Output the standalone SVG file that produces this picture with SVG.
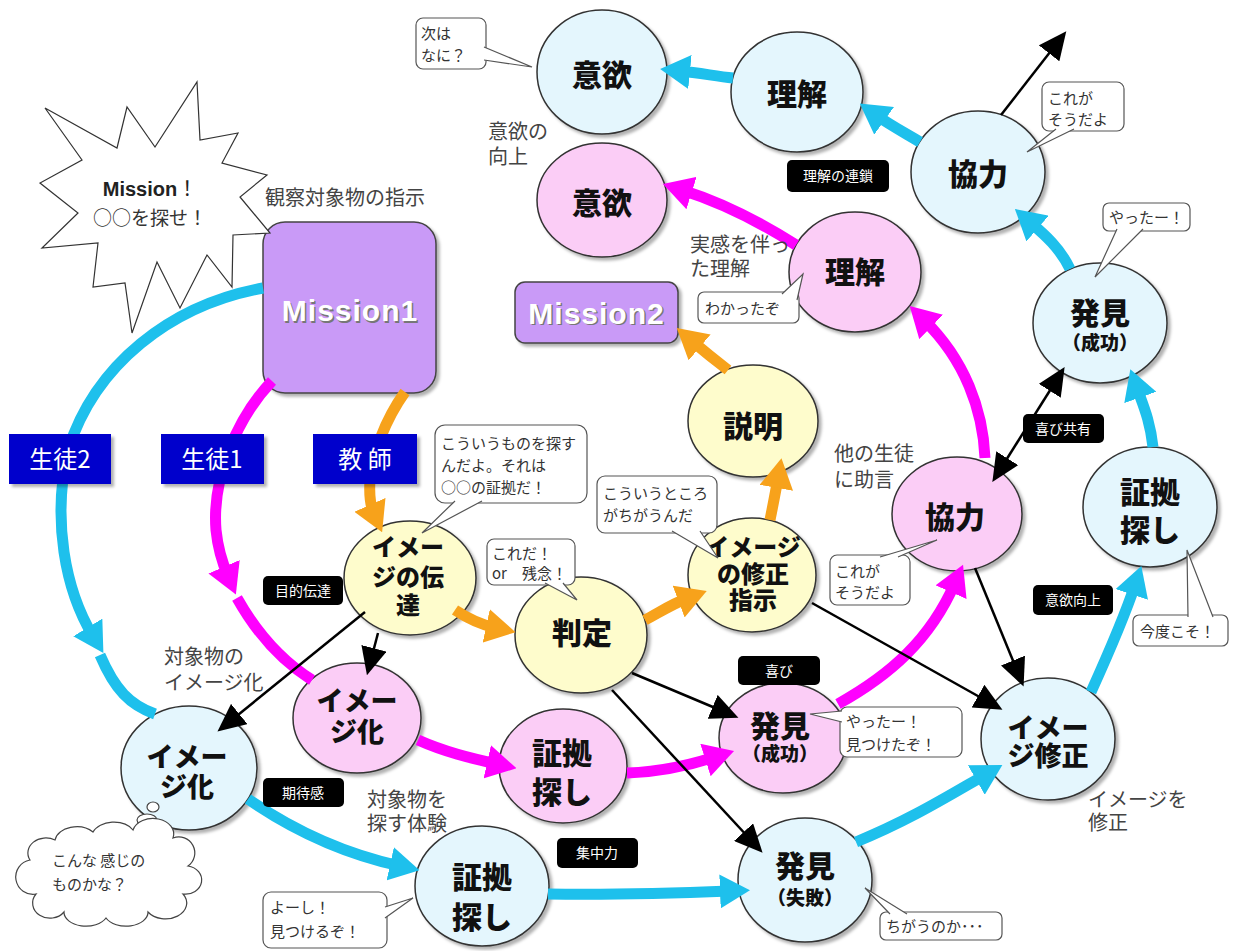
<svg xmlns="http://www.w3.org/2000/svg" width="1233" height="951" viewBox="0 0 1233 951">
<style>
.nb{fill:#e4f6fd;stroke:#333;stroke-width:1.5;filter:url(#sh)}
.np{fill:#fbcdf6;stroke:#333;stroke-width:1.5;filter:url(#sh)}
.ny{fill:#fefccc;stroke:#333;stroke-width:1.5;filter:url(#sh)}
.mr{fill:#c99af7;stroke:#444;stroke-width:1.5;filter:url(#sh)}
text{font-family:"Noto Sans CJK JP","Noto Sans",sans-serif}
.t{font-weight:900;fill:#111;text-anchor:middle;font-size:30px}
.t27{font-size:27px}
.t24{font-size:24px}
.s19{font-size:19px}
.mt{font-family:"Liberation Sans",Arial,sans-serif;font-weight:bold;font-size:30px;text-anchor:middle;letter-spacing:1px}
.cs{fill:#fff;stroke:#555;stroke-width:1.2}
.ct{font-size:15px;fill:#333}
.lab{font-size:20px;fill:#444}
.bk{fill:#000}
.bkt{fill:#fff;font-size:14px;text-anchor:middle}
.bl{fill:#0000cc;filter:url(#sh)}
.blt{fill:#fff;font-size:24px;text-anchor:middle}
.cy{fill:none;stroke:#1ec0ec;stroke-width:11}
.mg{fill:none;stroke:#ff00ff;stroke-width:11}
.or{fill:none;stroke:#f7a21b;stroke-width:11}
.bkl{fill:none;stroke:#000;stroke-width:2.5}
</style>
<defs>
<filter id="sh" x="-20%" y="-20%" width="140%" height="140%"><feDropShadow dx="3" dy="3" stdDeviation="1.5" flood-color="#000" flood-opacity="0.3"/></filter>
<marker id="mc" viewBox="0 0 30 34" refX="10" refY="17" markerWidth="30" markerHeight="34" markerUnits="userSpaceOnUse" orient="auto"><path d="M0,0 L30,17 L0,34 z" fill="#1ec0ec"/></marker>
<marker id="mm" viewBox="0 0 30 34" refX="10" refY="17" markerWidth="30" markerHeight="34" markerUnits="userSpaceOnUse" orient="auto"><path d="M0,0 L30,17 L0,34 z" fill="#ff00ff"/></marker>
<marker id="mo" viewBox="0 0 30 34" refX="10" refY="17" markerWidth="30" markerHeight="34" markerUnits="userSpaceOnUse" orient="auto"><path d="M0,0 L30,17 L0,34 z" fill="#f7a21b"/></marker>
<marker id="mb" viewBox="0 0 28 26" refX="8" refY="13" markerWidth="28" markerHeight="26" markerUnits="userSpaceOnUse" orient="auto-start-reverse"><path d="M0,0 L28,13 L0,26 z" fill="#000"/></marker>
</defs>
<rect width="1233" height="951" fill="#fff"/>

<g id="n-mission1"><rect class="mr" x="263" y="222" width="173" height="171" rx="22"/><text class="mt" x="351.5" y="322.5" fill="#777">Mission1</text><text class="mt" x="350" y="321" fill="#fff">Mission1</text></g>
<g id="n-mission2"><rect class="mr" x="515" y="282" width="163" height="61" rx="10"/><text class="mt" x="598" y="325" fill="#777">Mission2</text><text class="mt" x="596.5" y="323.5" fill="#fff">Mission2</text></g>

<g id="n-iyoku-b"><ellipse class="nb" cx="602" cy="72" rx="65" ry="62"/><text class="t" x="602" y="86">意欲</text></g>
<g id="n-rikai-b"><ellipse class="nb" cx="797" cy="92" rx="66" ry="60"/><text class="t" x="797" y="105">理解</text></g>
<g id="n-kyoryoku-b"><ellipse class="nb" cx="978" cy="172" rx="67" ry="61"/><text class="t" x="978" y="185">協力</text></g>
<g id="n-hakken-b1"><ellipse class="nb" cx="1100" cy="323" rx="67" ry="60"/><text class="t" x="1100" y="324">発見<tspan class="s19" x="1100" dy="26">（成功）</tspan></text></g>
<g id="n-shoko-b1"><ellipse class="nb" cx="1150" cy="507" rx="67" ry="60"/><text class="t" x="1150" y="503">証拠<tspan x="1150" dy="38">探し</tspan></text></g>
<g id="n-imageshusei"><ellipse class="nb" cx="1048" cy="739" rx="67" ry="61"/><text class="t t27" x="1048" y="738">イメー<tspan x="1048" dy="28">ジ修正</tspan></text></g>
<g id="n-hakken-fail"><ellipse class="nb" cx="805" cy="880" rx="67" ry="62"/><text class="t" x="805" y="877">発見<tspan class="s19" x="805" dy="28">（失敗）</tspan></text></g>
<g id="n-shoko-b2"><ellipse class="nb" cx="482" cy="886" rx="67" ry="60"/><text class="t" x="482" y="888">証拠<tspan x="482" dy="40">探し</tspan></text></g>
<g id="n-imageka-b"><ellipse class="nb" cx="189" cy="768" rx="68" ry="62"/><text class="t t27" x="187" y="767">イメー<tspan x="187" dy="30">ジ化</tspan></text></g>

<g id="n-iyoku-p"><ellipse class="np" cx="602" cy="200" rx="65" ry="57"/><text class="t" x="602" y="214">意欲</text></g>
<g id="n-rikai-p"><ellipse class="np" cx="855" cy="272" rx="66" ry="60"/><text class="t" x="855" y="283">理解</text></g>
<g id="n-kyoryoku-p"><ellipse class="np" cx="957" cy="514" rx="65" ry="57"/><text class="t" x="955" y="528">協力</text></g>
<g id="n-hakken-p"><ellipse class="np" cx="783" cy="738" rx="64" ry="55"/><text class="t" x="780" y="737">発見<tspan class="s19" x="780" dy="24">（成功）</tspan></text></g>
<g id="n-shoko-p"><ellipse class="np" cx="563" cy="766" rx="64" ry="57"/><text class="t" x="562" y="764">証拠<tspan x="562" dy="39">探し</tspan></text></g>
<g id="n-imageka-p"><ellipse class="np" cx="357" cy="718" rx="64" ry="55"/><text class="t t27" x="357" y="711">イメー<tspan x="357" dy="31">ジ化</tspan></text></g>

<g id="n-setsumei"><ellipse class="ny" cx="753" cy="421" rx="65" ry="56"/><text class="t" x="753" y="437">説明</text></g>
<g id="n-shuseishiji"><ellipse class="ny" cx="752" cy="575" rx="64" ry="57"/><text class="t t24" x="753" y="556">イメージ<tspan x="753" dy="27">の修正</tspan><tspan x="753" dy="26">指示</tspan></text></g>
<g id="n-hantei"><ellipse class="ny" cx="581" cy="635" rx="66" ry="58"/><text class="t" x="582" y="644">判定</text></g>
<g id="n-dentatsu"><ellipse class="ny" cx="410" cy="578" rx="66" ry="57"/><text class="t t24" x="408" y="556">イメー<tspan x="408" dy="30">ジの伝</tspan><tspan x="408" dy="28">達</tspan></text></g>

<g id="connectors">
<path class="cy" d="M100,655 C115,690 130,705 155,714"/>
<path class="cy" marker-end="url(#mc)" d="M263,288 C170,305 95,365 68,450 C52,520 65,590 93,636"/>
<path class="cy" marker-end="url(#mc)" d="M248,799 C300,835 350,855 400,866"/>
<path class="cy" marker-end="url(#mc)" d="M548,894 C610,895 680,893 730,891"/>
<path class="cy" marker-end="url(#mc)" d="M856,842 C910,820 950,795 985,775"/>
<path class="cy" marker-end="url(#mc)" d="M1091,692 C1110,650 1125,615 1135,585"/>
<path class="cy" marker-end="url(#mc)" d="M1153,447 C1150,420 1143,405 1137,388"/>
<path class="cy" marker-end="url(#mc)" d="M1070,269 C1060,248 1045,235 1030,222"/>
<path class="cy" marker-end="url(#mc)" d="M920,142 C905,133 890,125 876,115"/>
<path class="cy" marker-end="url(#mc)" d="M733,78 C715,76 700,73 680,71"/>
<path class="mg" d="M237,598 C255,630 280,660 312,680"/>
<path class="mg" marker-end="url(#mm)" d="M272,381 C235,420 212,480 216,530 C218,550 222,562 228,576"/>
<path class="mg" marker-end="url(#mm)" d="M418,740 C445,752 470,758 497,764"/>
<path class="mg" marker-end="url(#mm)" d="M627,773 C660,772 690,765 715,757"/>
<path class="mg" marker-end="url(#mm)" d="M838,704 C890,675 930,640 955,583"/>
<path class="mg" marker-end="url(#mm)" d="M985,458 C983,410 965,360 924,320"/>
<path class="mg" marker-end="url(#mm)" d="M796,245 C760,222 720,202 682,190"/>
<path class="or" marker-end="url(#mo)" d="M405,392 C385,420 372,455 370,480 C369,495 370,505 374,514"/>
<path class="or" marker-end="url(#mo)" d="M455,610 C470,620 482,625 496,628"/>
<path class="or" marker-end="url(#mo)" d="M645,620 C660,612 672,604 688,598"/>
<path class="or" marker-end="url(#mo)" d="M770,520 C773,505 775,495 778,478"/>
<path class="or" marker-end="url(#mo)" d="M728,370 C715,360 705,352 692,341"/>
<path class="bkl" marker-end="url(#mb)" d="M1001,115 L1054,47"/>
<path class="bkl" marker-start="url(#mb)" marker-end="url(#mb)" d="M1003,465 L1054,384"/>
<path class="bkl" marker-end="url(#mb)" d="M365,612 L233,719"/>
<path class="bkl" marker-end="url(#mb)" d="M378,633 L372,656"/>
<path class="bkl" marker-end="url(#mb)" d="M632,673 L720,710"/>
<path class="bkl" marker-end="url(#mb)" d="M612,690 L749,838"/>
<path class="bkl" marker-end="url(#mb)" d="M812,603 L985,700"/>
<path class="bkl" marker-end="url(#mb)" d="M975,568 L1016,668"/>
</g>

<g id="starburst"><polygon points="197,82 200,140 238,133 222,163 267,175 240,197 270,233 233,235 232,287 207,255 180,308 157,262 132,333 125,283 93,287 98,243 42,248 78,213 40,183 82,160 45,108 117,148 127,107 155,147" fill="#fff" stroke="#333" stroke-width="1.2"/><text x="150" y="196" font-size="20" text-anchor="middle" fill="#222"><tspan font-weight="bold" font-family="Liberation Sans,Arial,sans-serif">Mission</tspan>！<tspan x="150" dy="29" font-size="19" fill="#333">○○を探せ！</tspan></text></g>

<g id="cloud"><ellipse cx="153" cy="807" rx="6" ry="5" fill="#fff" stroke="#444" stroke-width="1.2"/><ellipse cx="147" cy="820" rx="10" ry="6" fill="#fff" stroke="#444" stroke-width="1.2"/><path d="M30,860 a18,15 0 0 1 25,-20 a22,16 0 0 1 38,-8 a22,15 0 0 1 40,-2 a20,15 0 0 1 40,8 a16,16 0 0 1 15,28 a16,14 0 0 1 -5,28 a20,15 0 0 1 -35,18 a22,14 0 0 1 -42,6 a22,14 0 0 1 -42,-6 a16,14 0 0 1 -28,-18 a14,14 0 0 1 -6,-34 z" fill="#fff" stroke="#444" stroke-width="1.2"/><text class="ct" x="52" y="866">こんな 感じの<tspan x="52" dy="24">ものかな？</tspan></text></g>

<g id="labels-blue">
<rect class="bl" x="9" y="434" width="102" height="50"/><text class="blt" x="60" y="468">生徒2</text>
<rect class="bl" x="161" y="434" width="103" height="50"/><text class="blt" x="212" y="468">生徒1</text>
<rect class="bl" x="313" y="434" width="104" height="50"/><text class="blt" x="365" y="468">教 師</text>
</g>
<g id="labels-black">
<rect class="bk" x="263" y="576" width="80" height="29" rx="5"/><text class="bkt" x="303" y="596">目的伝達</text>
<rect class="bk" x="263" y="778" width="81" height="29" rx="5"/><text class="bkt" x="303" y="798">期待感</text>
<rect class="bk" x="557" y="838" width="81" height="30" rx="5"/><text class="bkt" x="597" y="858">集中力</text>
<rect class="bk" x="738" y="656" width="82" height="29" rx="5"/><text class="bkt" x="779" y="676">喜び</text>
<rect class="bk" x="1023" y="414" width="81" height="29" rx="5"/><text class="bkt" x="1063" y="434">喜び共有</text>
<rect class="bk" x="1033" y="585" width="80" height="30" rx="5"/><text class="bkt" x="1073" y="605">意欲向上</text>
<rect class="bk" x="787" y="160" width="102" height="32" rx="5"/><text class="bkt" x="838" y="181">理解の連鎖</text>
</g>
<g id="texts">
<text class="lab" x="265" y="205">観察対象物の指示</text>
<text class="lab" x="488" y="139">意欲の<tspan x="488" dy="25">向上</tspan></text>
<text class="lab" x="690" y="252" font-size="19">実感を伴っ<tspan x="690" dy="24">た理解</tspan></text>
<text class="lab" x="834" y="461">他の生徒<tspan x="834" dy="26">に助言</tspan></text>
<text class="lab" x="164" y="664">対象物の<tspan x="164" dy="26">イメージ化</tspan></text>
<text class="lab" x="367" y="807">対象物を<tspan x="367" dy="24">探す体験</tspan></text>
<text class="lab" x="1088" y="807">イメージを<tspan x="1088" dy="23">修正</tspan></text>
</g>
<g id="callouts">
<rect class="cs" x="416" y="18" width="70" height="51" rx="7"/><path class="cs" d="M484,47 L532,67 L484,60"/><text class="ct" x="421" y="39" font-size="14">次は<tspan x="421" dy="22">なに？</tspan></text>
<rect class="cs" x="1042" y="82" width="82" height="49" rx="7"/><path class="cs" d="M1056,129 L1027,152 L1074,129"/><text class="ct" x="1048" y="104">これが<tspan x="1048" dy="21">そうだよ</tspan></text>
<rect class="cs" x="1103" y="203" width="87" height="28" rx="6"/><path class="cs" d="M1117,229 L1095,277 L1143,229"/><text class="ct" x="1109" y="223">やったー！</text>
<rect class="cs" x="698" y="292" width="101" height="31" rx="6"/><path class="cs" d="M782,294 L803,274 L797,300"/><text class="ct" x="705" y="314">わかったぞ</text>
<rect class="cs" x="435" y="425" width="152" height="78" rx="10"/><path class="cs" d="M455,501 L422,533 L482,501"/><text class="ct" x="441" y="449">こういうものを探す<tspan x="441" dy="22">んだよ。それは</tspan><tspan x="441" dy="22">○○の証拠だ！</tspan></text>
<rect class="cs" x="597" y="476" width="120" height="57" rx="8"/><path class="cs" d="M672,531 L718,558 L700,531"/><text class="ct" x="603" y="499" font-size="14.5">こういうところ<tspan x="603" dy="22">がちがうんだ</tspan></text>
<rect class="cs" x="487" y="539" width="88" height="46" rx="7"/><path class="cs" d="M545,583 L577,600 L563,583"/><text class="ct" x="492" y="559">これだ！<tspan x="492" dy="20">or　残念！</tspan></text>
<rect class="cs" x="830" y="555" width="80" height="50" rx="7"/><path class="cs" d="M880,557 L937,540 L898,557"/><text class="ct" x="835" y="577">これが<tspan x="835" dy="21">そうだよ</tspan></text>
<rect class="cs" x="1133" y="615" width="95" height="31" rx="6"/><path class="cs" d="M1188,617 L1187,550 L1213,617"/><text class="ct" x="1140" y="637" font-size="16">今度こそ！</text>
<rect class="cs" x="840" y="707" width="122" height="50" rx="7"/><path class="cs" d="M842,711 L810,714 L842,722"/><text class="ct" x="846" y="727" font-size="16">やったー！<tspan x="846" dy="23">見つけたぞ！</tspan></text>
<rect class="cs" x="880" y="912" width="122" height="28" rx="6"/><path class="cs" d="M890,914 L865,888 L907,914"/><text class="ct" x="886" y="932">ちがうのか･･･</text>
<rect class="cs" x="263" y="892" width="124" height="56" rx="8"/><path class="cs" d="M385,907 L413,898 L385,918"/><text class="ct" x="270" y="913" font-size="16">よーし！<tspan x="270" dy="24">見つけるぞ！</tspan></text>
</g>
</svg>
